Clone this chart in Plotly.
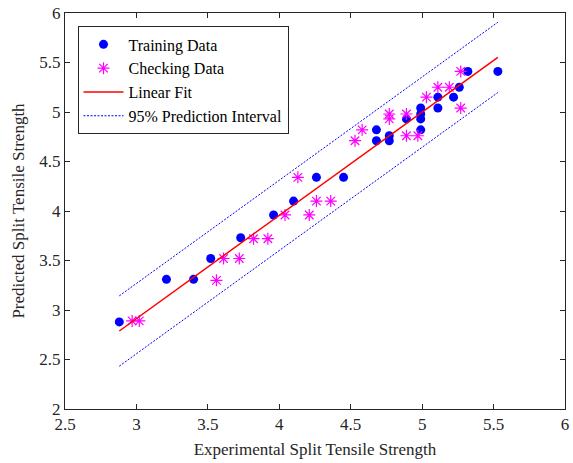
import numpy as np
import plotly.graph_objects as go

# Training data (experimental vs predicted)
train_exp = [2.88, 3.21, 3.40, 3.52, 3.73, 3.96, 4.10, 4.26, 4.45, 4.68, 4.68, 4.77,
             4.77, 4.89, 4.99, 4.99, 4.99, 4.99, 5.11, 5.11, 5.22, 5.26, 5.32, 5.53]
train_pred = [2.88, 3.31, 3.31, 3.52, 3.73, 3.96, 4.10, 4.34, 4.34, 4.82, 4.71, 4.76,
              4.71, 4.93, 5.04, 4.98, 4.93, 4.82, 5.15, 5.04, 5.15, 5.25, 5.41, 5.41]

# Checking data
check_exp = [2.97, 3.02, 3.56, 3.61, 3.72, 3.82, 3.92, 4.04, 4.13, 4.21, 4.26, 4.36,
             4.53, 4.58, 4.77, 4.77, 4.89, 4.89, 4.97, 5.03, 5.11, 5.19, 5.27, 5.27]
check_pred = [2.89, 2.89, 3.30, 3.52, 3.52, 3.72, 3.72, 3.96, 4.34, 3.96, 4.10, 4.10,
              4.71, 4.82, 4.98, 4.93, 4.98, 4.76, 4.76, 5.15, 5.25, 5.25, 5.41, 5.04]

# Linear fit and 95% prediction interval
fit_slope = 1.043
fit_intercept = -0.216
pi_halfwidth = 0.355

x_ticks = [2.5, 3, 3.5, 4, 4.5, 5, 5.5, 6]
y_ticks = [2, 2.5, 3, 3.5, 4, 4.5, 5, 5.5, 6]

xf = np.linspace(min(train_exp), max(train_exp), 60)
yf = fit_intercept + fit_slope * xf

FONT = "Liberation Serif"
AX = "#262626"

fig = go.Figure()
fig.add_trace(go.Scatter(x=train_exp, y=train_pred, mode="markers", name="Training Data",
                         marker=dict(symbol="circle", size=9, color="#0000ff",
                                     line=dict(width=0))))
fig.add_trace(go.Scatter(x=check_exp, y=check_pred, mode="markers", name="Checking Data",
                         marker=dict(symbol="asterisk-open", size=10, color="#ff00ff",
                                     line=dict(width=1.2, color="#ff00ff"))))
fig.add_trace(go.Scatter(x=xf, y=yf, mode="lines", name="Linear Fit",
                         line=dict(color="#ff0000", width=1.5)))
fig.add_trace(go.Scatter(x=xf, y=yf + pi_halfwidth, mode="lines", name="95% Prediction Interval",
                         line=dict(color="#0000ff", width=1, dash="2px,1.5px")))
fig.add_trace(go.Scatter(x=xf, y=yf - pi_halfwidth, mode="lines", showlegend=False,
                         line=dict(color="#0000ff", width=1, dash="2px,1.5px")))

axis_common = dict(showgrid=False, zeroline=False, showline=True, linecolor=AX, linewidth=1,
                   mirror="ticks", ticks="inside", ticklen=5, tickcolor=AX,
                   tickfont=dict(family=FONT, size=17, color=AX))

fig.update_layout(
    width=573, height=463,
    margin=dict(l=65, r=4, t=10, b=54),
    plot_bgcolor="white", paper_bgcolor="white",
    font=dict(family=FONT, color=AX),
    xaxis=dict(range=[2.5, 6], tickvals=x_ticks, ticktext=[f"{v:g}" for v in x_ticks],
               title=dict(text="Experimental Split Tensile Strength",
                          font=dict(family=FONT, size=17, color=AX), standoff=9),
               **axis_common),
    yaxis=dict(range=[2, 6], tickvals=y_ticks, ticktext=[f"{v:g}" for v in y_ticks],
               title=dict(text="Predicted Split Tensile Strength",
                          font=dict(family=FONT, size=17, color=AX), standoff=10),
               **axis_common),
    legend=dict(x=0.025, y=0.966, xanchor="left", yanchor="top",
                bgcolor="white", bordercolor=AX, borderwidth=1,
                font=dict(family=FONT, size=16, color="black"),
                itemwidth=40, tracegroupgap=0),
    showlegend=True,
)

fig.write_html("out.html")
